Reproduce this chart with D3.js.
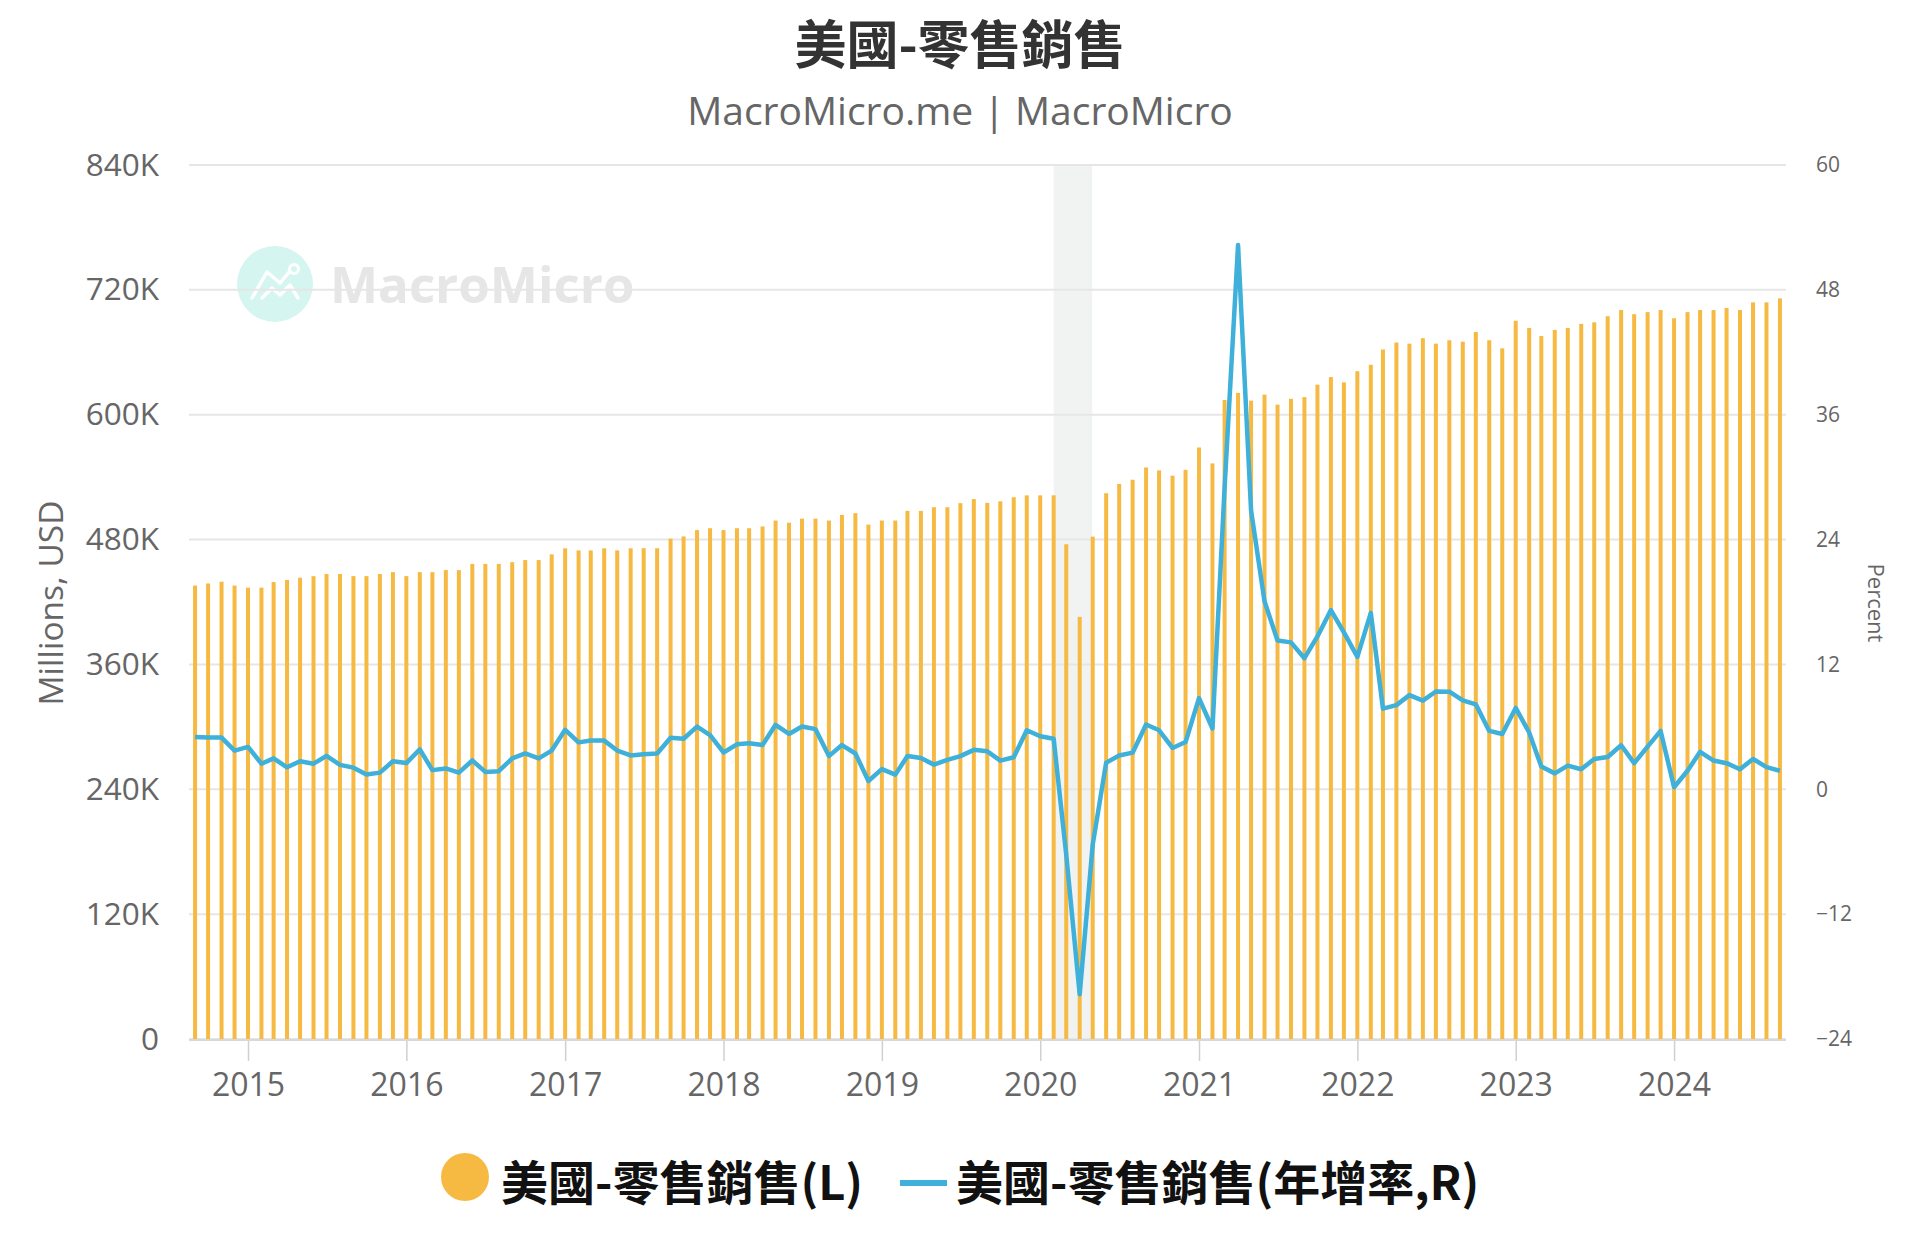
<!DOCTYPE html>
<html>
<head>
<meta charset="utf-8">
<script src="https://cdn.jsdelivr.net/npm/d3@7"></script>
<style>
  html, body { margin: 0; padding: 0; background: #ffffff; }
  svg { display: block; }
</style>
</head>
<body>
<svg id="chart" width="1920" height="1250"></svg>
<script>
// ---------------- DATA ----------------
const months = [
  "2014-09","2014-10","2014-11","2014-12",
  "2015-01","2015-02","2015-03","2015-04","2015-05","2015-06","2015-07","2015-08","2015-09","2015-10","2015-11","2015-12",
  "2016-01","2016-02","2016-03","2016-04","2016-05","2016-06","2016-07","2016-08","2016-09","2016-10","2016-11","2016-12",
  "2017-01","2017-02","2017-03","2017-04","2017-05","2017-06","2017-07","2017-08","2017-09","2017-10","2017-11","2017-12",
  "2018-01","2018-02","2018-03","2018-04","2018-05","2018-06","2018-07","2018-08","2018-09","2018-10","2018-11","2018-12",
  "2019-01","2019-02","2019-03","2019-04","2019-05","2019-06","2019-07","2019-08","2019-09","2019-10","2019-11","2019-12",
  "2020-01","2020-02","2020-03","2020-04","2020-05","2020-06","2020-07","2020-08","2020-09","2020-10","2020-11","2020-12",
  "2021-01","2021-02","2021-03","2021-04","2021-05","2021-06","2021-07","2021-08","2021-09","2021-10","2021-11","2021-12",
  "2022-01","2022-02","2022-03","2022-04","2022-05","2022-06","2022-07","2022-08","2022-09","2022-10","2022-11","2022-12",
  "2023-01","2023-02","2023-03","2023-04","2023-05","2023-06","2023-07","2023-08","2023-09","2023-10","2023-11","2023-12",
  "2024-01","2024-02","2024-03","2024-04","2024-05","2024-06","2024-07","2024-08","2024-09"
];

// 美國-零售銷售 (Millions, USD)
const retailSales = [
  435800,437800,439500,435800,
  433800,433800,439200,441200,443300,444800,446900,446900,444900,444900,446900,448700,
  444900,448700,448700,450700,450700,456600,456600,456600,458300,460300,460300,465800,
  471600,469600,469600,471600,469600,471600,471700,471700,480900,483000,489100,490900,
  489100,490900,490900,492600,498300,496200,500100,500100,498300,503700,505400,494400,
  498300,498300,507600,507600,511100,511100,515000,518900,515300,516800,520700,522500,
  522500,522500,475500,405700,482800,524500,533500,537500,549300,546500,541400,547000,
  568500,553200,614200,621000,613500,619300,609700,615300,616900,628900,636200,631100,
  641800,648000,662700,669400,668300,673500,668300,671600,670200,679500,671600,663800,
  690300,683400,675600,681500,683400,687300,688800,694700,700600,696600,698600,700600,
  692700,698600,700600,700600,702600,700600,708000,708000,711800
];

// 美國-零售銷售(年增率) (Percent)
const retailYoY = [
  5.03,4.97,4.97,3.72,
  4.07,2.46,2.97,2.11,2.70,2.46,3.21,2.35,2.08,1.43,1.60,2.70,
  2.52,3.83,1.84,2.00,1.60,2.77,1.67,1.74,2.97,3.45,2.97,3.72,
  5.72,4.51,4.68,4.68,3.72,3.25,3.36,3.44,4.96,4.86,6.03,5.21,
  3.54,4.32,4.43,4.25,6.20,5.32,6.03,5.78,3.19,4.25,3.44,0.80,
  1.94,1.41,3.19,3.00,2.37,2.83,3.19,3.79,3.65,2.76,3.08,5.67,
  5.10,4.85,-6.30,-19.70,-5.33,2.56,3.24,3.52,6.23,5.67,3.97,4.54,
  8.77,5.84,29.00,52.30,26.80,18.07,14.30,14.12,12.60,14.69,17.23,15.08,
  12.72,16.95,7.75,8.09,9.05,8.52,9.40,9.38,8.55,8.16,5.61,5.31,
  7.82,5.46,2.18,1.53,2.27,1.93,2.91,3.11,4.23,2.51,4.10,5.61,
  0.20,1.78,3.60,2.76,2.51,1.93,2.91,2.13,1.78
];

const leftTicks = [0,120000,240000,360000,480000,600000,720000,840000];
const rightTicks = [-24,-12,0,12,24,36,48,60];
const yearTicks = ["2015","2016","2017","2018","2019","2020","2021","2022","2023","2024"];
const recession = ["2020-02-01","2020-04-30"];

const titleText = "美國-零售銷售";
const subtitleText = "MacroMicro.me | MacroMicro";
const legendNames = ["美國-零售銷售(L)", "美國-零售銷售(年增率,R)"];

// ---------------- STYLE ----------------
const BAR_COLOR = "#F6BA42";
const LINE_COLOR = "#3EB0DA";
const GRID_COLOR = "#e6e6e6";
const TEXT_GREY = "#666666";
const LATIN = "'Open Sans', 'Noto Sans', sans-serif";
const CJK = "'Noto Sans CJK TC', 'Noto Sans CJK SC', sans-serif";

const svg = d3.select("#chart");
const plot = { left: 189, right: 1786, top: 165, bottom: 1039 };

const parseMonth = d3.timeParse("%Y-%m");
const parseDay = d3.timeParse("%Y-%m-%d");
const dates = months.map(parseMonth);

const x = d3.scaleTime()
  .domain([new Date(2014, 7, 18), new Date(2024, 8, 15)])
  .range([plot.left, plot.right]);
const yL = d3.scaleLinear().domain([0, 840000]).range([plot.bottom, plot.top]);
const yR = d3.scaleLinear().domain([-24, 60]).range([plot.bottom, plot.top]);

// ---------------- TITLE ----------------
svg.append("text")
  .attr("x", 960).attr("y", 41)
  .attr("text-anchor", "middle").attr("dominant-baseline", "central")
  .attr("font-family", CJK).attr("font-weight", 700).attr("font-size", 52)
  .attr("fill", "#333333")
  .text(titleText);

svg.append("text")
  .attr("x", 960).attr("y", 109)
  .attr("text-anchor", "middle").attr("dominant-baseline", "central")
  .attr("font-family", LATIN).attr("font-size", 39)
  .attr("fill", TEXT_GREY)
  .text(subtitleText);

// ---------------- RECESSION BAND ----------------
svg.append("rect")
  .attr("x", x(parseDay(recession[0])))
  .attr("y", plot.top)
  .attr("width", x(parseDay(recession[1])) - x(parseDay(recession[0])))
  .attr("height", plot.bottom - plot.top)
  .attr("fill", "#f1f2f2");

// ---------------- WATERMARK ----------------
const wm = svg.append("g").attr("class", "watermark");
wm.append("circle").attr("cx", 275).attr("cy", 284).attr("r", 38).attr("fill", "#d5f5f0");
wm.append("polyline")
  .attr("points", "252,298 267,272 280,283 290,271")
  .attr("fill", "none").attr("stroke", "#ffffff").attr("stroke-width", 3.5)
  .attr("stroke-linecap", "round").attr("stroke-linejoin", "round");
wm.append("polyline")
  .attr("points", "262,298 272,288 280,295 290,285 298,298")
  .attr("fill", "none").attr("stroke", "#ffffff").attr("stroke-width", 3.5)
  .attr("stroke-linecap", "round").attr("stroke-linejoin", "round");
wm.append("circle").attr("cx", 294).attr("cy", 269).attr("r", 4.5)
  .attr("fill", "none").attr("stroke", "#ffffff").attr("stroke-width", 3);
wm.append("text")
  .attr("x", 330).attr("y", 303)
  .attr("font-family", LATIN).attr("font-weight", 700).attr("font-size", 51)
  .attr("fill", "#e6e6e6")
  .text("MacroMicro");

// ---------------- GRIDLINES ----------------
svg.append("g").selectAll("line").data(leftTicks).join("line")
  .attr("x1", plot.left).attr("x2", plot.right)
  .attr("y1", d => yL(d)).attr("y2", d => yL(d))
  .attr("stroke", GRID_COLOR).attr("stroke-width", 2);

// ---------------- AXES ----------------
const kFmt = d => d === 0 ? "0" : (d / 1000) + "K";
const gL = svg.append("g")
  .attr("transform", `translate(${plot.left - 30},0)`)
  .call(d3.axisLeft(yL).tickValues(leftTicks).tickFormat(kFmt).tickSize(0).tickPadding(0));
gL.select(".domain").remove();
gL.selectAll("text")
  .attr("font-family", LATIN).attr("font-size", 31.5).attr("fill", TEXT_GREY);

const gR = svg.append("g")
  .attr("transform", `translate(${plot.right + 30},0)`)
  .call(d3.axisRight(yR).tickValues(rightTicks).tickSize(0).tickPadding(0));
gR.select(".domain").remove();
gR.selectAll("text")
  .attr("font-family", LATIN).attr("font-size", 21).attr("fill", TEXT_GREY);

const gX = svg.append("g")
  .attr("transform", `translate(0,${plot.bottom})`)
  .call(d3.axisBottom(x)
    .tickValues(yearTicks.map(y => parseDay(y + "-01-01")))
    .tickFormat(d3.timeFormat("%Y"))
    .tickSize(22).tickPadding(12));
gX.select(".domain").remove();
gX.selectAll(".tick line").attr("stroke", "#d0d0d0").attr("stroke-width", 1.5);
gX.selectAll("text")
  .attr("font-family", LATIN).attr("font-size", 32).attr("fill", TEXT_GREY);

// axis titles
svg.append("text")
  .attr("transform", "translate(50,603) rotate(-90)")
  .attr("text-anchor", "middle").attr("dominant-baseline", "central")
  .attr("font-family", LATIN).attr("font-size", 33.5).attr("fill", TEXT_GREY)
  .text("Millions, USD");
svg.append("text")
  .attr("transform", "translate(1877,603) rotate(90)")
  .attr("text-anchor", "middle").attr("dominant-baseline", "central")
  .attr("font-family", LATIN).attr("font-size", 22).attr("fill", TEXT_GREY)
  .text("Percent");

// ---------------- BARS ----------------
const BAR_W = 4;
svg.append("g").selectAll("rect").data(retailSales).join("rect")
  .attr("x", (d, i) => x(dates[i]) - BAR_W / 2)
  .attr("y", d => yL(d))
  .attr("width", BAR_W)
  .attr("height", d => yL(0) - yL(d))
  .attr("fill", BAR_COLOR);

// bottom axis line
svg.append("line")
  .attr("x1", plot.left).attr("x2", plot.right)
  .attr("y1", plot.bottom + 1).attr("y2", plot.bottom + 1)
  .attr("stroke", "#d8d8d8").attr("stroke-width", 2);

// ---------------- LINE ----------------
const lineGen = d3.line()
  .x((d, i) => x(dates[i]))
  .y(d => yR(d));
svg.append("path")
  .datum(retailYoY)
  .attr("d", lineGen)
  .attr("fill", "none")
  .attr("stroke", LINE_COLOR)
  .attr("stroke-width", 4.5)
  .attr("stroke-linejoin", "round");

// ---------------- LEGEND ----------------
const lg = svg.append("g");
lg.append("circle").attr("cx", 465).attr("cy", 1177).attr("r", 24).attr("fill", BAR_COLOR);
lg.append("text")
  .attr("x", 501).attr("y", 1179)
  .attr("dominant-baseline", "central")
  .attr("font-family", CJK).attr("font-weight", 700).attr("font-size", 47)
  .attr("fill", "#111111")
  .text(legendNames[0]);
lg.append("line")
  .attr("x1", 900).attr("x2", 947).attr("y1", 1183).attr("y2", 1183)
  .attr("stroke", LINE_COLOR).attr("stroke-width", 6);
lg.append("text")
  .attr("x", 956).attr("y", 1179)
  .attr("dominant-baseline", "central")
  .attr("font-family", CJK).attr("font-weight", 700).attr("font-size", 47)
  .attr("fill", "#111111")
  .text(legendNames[1]);
</script>
</body>
</html>
